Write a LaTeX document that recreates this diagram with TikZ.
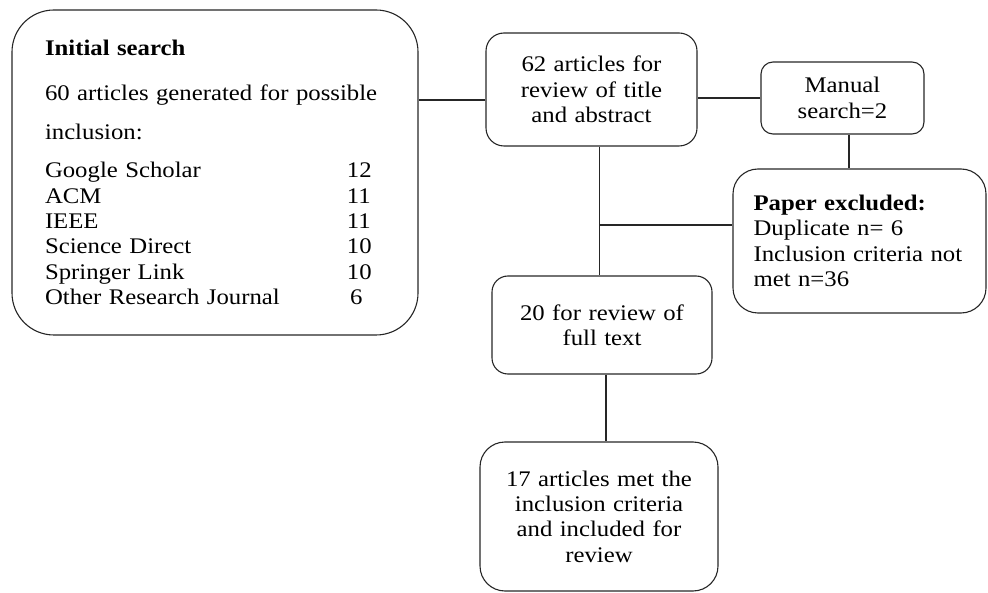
\documentclass[tikz,border=0pt]{standalone}
\usepackage{fontspec}
\setmainfont{Liberation Serif}[FakeStretch=1.11]
\usepackage{tikz}
\newcommand\dbrow[2]{\makebox[302pt][l]{#1}#2}

\begin{document}
\begin{tikzpicture}
        [x=1pt,y=-1pt,
         every node/.style={font=\fontsize{22.3}{25.4}\selectfont,inner sep=0pt},
         rbox/.style={draw=black!85,line width=1.1pt,rounded corners=#1},
         link/.style={draw=black!85,line width=1.1pt}]
        \useasboundingbox (0,0) rectangle (988,593);

        \node[rbox=42pt,minimum width=406pt,minimum height=325pt,text width=340pt,align=left] (search) at (215,172.5)
          {\vspace*{7pt}\textbf{Initial search}\\[13pt] 60 articles generated for possible\\[13pt] inclusion:\\[13pt]
           \dbrow{Google Scholar}{12}\\ \dbrow{ACM}{11}\\ \dbrow{IEEE}{11}\\
           \dbrow{Science Direct}{10}\\ \dbrow{Springer Link}{10}\\ \dbrow{Other Research Journal}{\hspace{3pt}6}};
        \node[rbox=18pt,minimum width=211pt,minimum height=113pt,text width=190pt,align=center] (review) at (591.5,89.5)
          {62 articles for\\ review of title\\ and abstract};
        \node[rbox=12pt,minimum width=163pt,minimum height=72pt,text width=150pt,align=center] (manual) at (842.5,98)
          {Manual\\ search=2};
        \node[rbox=25pt,minimum width=253pt,minimum height=144pt,text width=212pt,align=left] (excluded) at (859.5,241)
          {\textbf{Paper excluded:}\\ Duplicate n= 6\\ Inclusion criteria not\\ met n=36\par\vspace{9pt}};
        \node[rbox=16pt,minimum width=220pt,minimum height=98pt,text width=200pt,align=center] (full) at (602,325)
          {20 for review of\\ full text\par\vspace{22pt}};
        \node[rbox=25pt,minimum width=238pt,minimum height=149pt,text width=220pt,align=center] (final) at (599,516.5)
          {17 articles met the\\ inclusion criteria\\ and included for\\ review\par\vspace{13pt}};

        \coordinate (branch) at (599.5,225);
        \draw[link] ([yshift=-10.5pt]review.west) -- ([yshift=-10.5pt]review.west -| search.east);
        \draw[link] (manual.west) -- (manual.west -| review.east);
        \draw[link] ([xshift=6.5pt]manual.south) -- ([xshift=6.5pt]manual.south |- excluded.north);
        \draw[link] ([xshift=8pt]review.south) -- ([xshift=8pt]review.south |- full.north);
        \draw[link] (branch) -- (branch -| excluded.west);
        \draw[link] ([xshift=4pt]full.south) -- ([xshift=4pt]full.south |- final.north);
    \end{tikzpicture}
\end{document}
